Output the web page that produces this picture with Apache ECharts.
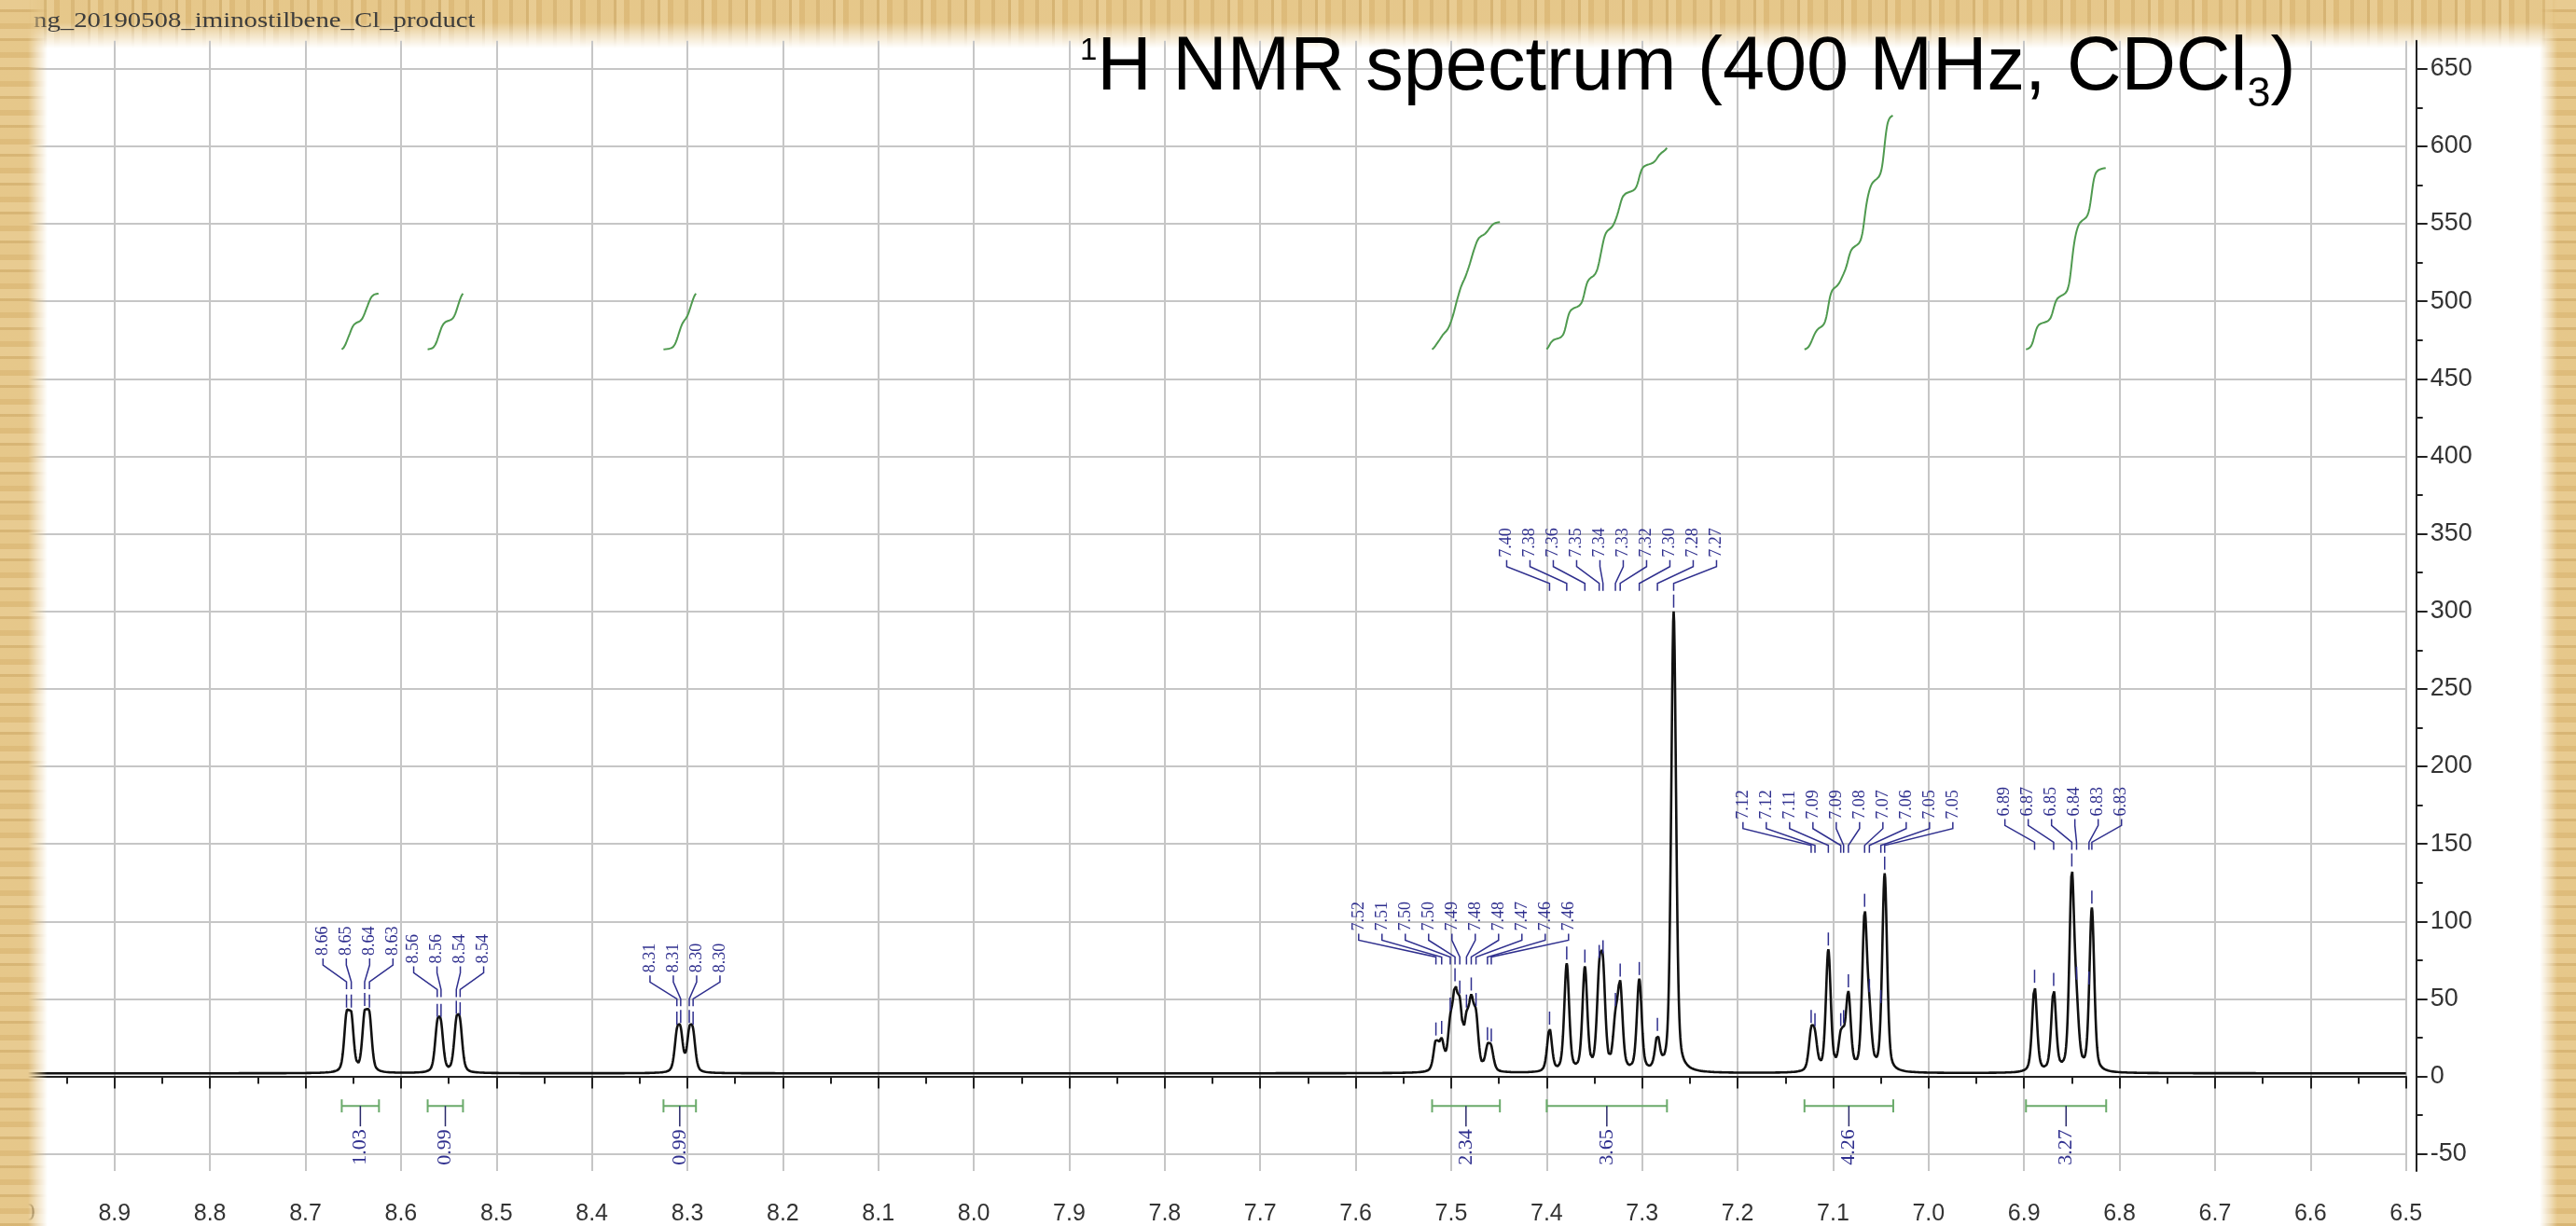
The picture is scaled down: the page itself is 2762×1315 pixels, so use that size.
<!DOCTYPE html>
<html>
<head>
<meta charset="utf-8">
<title>1H NMR spectrum</title>
<script src="https://cdn.jsdelivr.net/npm/echarts@6/dist/echarts.min.js"></script>
<style>
html,body{margin:0;padding:0;width:2762px;height:1315px;overflow:hidden;background:#ffffff;}
#chart{position:absolute;left:0;top:0;width:2762px;height:1315px;z-index:1;}
.edge{position:absolute;pointer-events:none;
  background:
   repeating-linear-gradient(90deg, rgba(170,130,64,0.22) 0 3px, rgba(255,244,212,0.20) 3px 11px, rgba(192,150,80,0.16) 11px 17px, rgba(255,238,196,0.12) 17px 29px, rgba(160,122,60,0.14) 29px 33px, rgba(255,246,220,0.1) 33px 47px),
   #e3c282;}
#edgeTop{left:0;top:0;width:2762px;height:54px;z-index:0;
  -webkit-mask-image:linear-gradient(to bottom,#000 0,#000 24px,rgba(0,0,0,0.55) 36px,transparent 52px);
  mask-image:linear-gradient(to bottom,#000 0,#000 24px,rgba(0,0,0,0.55) 36px,transparent 52px);}
#edgeLeft{left:0;top:0;width:52px;height:1315px;z-index:2;
  background:
   repeating-linear-gradient(0deg, rgba(170,130,64,0.2) 0 3px, rgba(255,244,212,0.18) 3px 13px, rgba(192,150,80,0.14) 13px 19px, rgba(255,238,196,0.12) 19px 31px),
   #e3c282;
  -webkit-mask-image:linear-gradient(to right,#000 0,#000 30px,rgba(0,0,0,0.5) 40px,transparent 51px);
  mask-image:linear-gradient(to right,#000 0,#000 30px,rgba(0,0,0,0.5) 40px,transparent 51px);}
#edgeRight{right:0;top:0;width:40px;height:1315px;z-index:2;
  background:
   repeating-linear-gradient(0deg, rgba(170,130,64,0.2) 0 3px, rgba(255,244,212,0.18) 3px 13px, rgba(192,150,80,0.14) 13px 19px, rgba(255,238,196,0.12) 19px 31px),
   #e3c282;
  -webkit-mask-image:linear-gradient(to left,#000 0,#000 20px,rgba(0,0,0,0.5) 29px,transparent 39px);
  mask-image:linear-gradient(to left,#000 0,#000 20px,rgba(0,0,0,0.5) 29px,transparent 39px);}
</style>
</head>
<body>
<div class="edge" id="edgeTop"></div>
<div id="chart"></div>
<div class="edge" id="edgeLeft"></div>
<div class="edge" id="edgeRight"></div>
<script>
// ---------------- data ----------------
const X_MIN = 6.5, X_MAX = 9.0, X_STEP = 0.1;          // ppm axis (inverted)
const Y_MIN = -61, Y_MAX = 668;                          // intensity axis
const yTicks = [-50, 0, 50, 100, 150, 200, 250, 300, 350, 400, 450, 500, 550, 600, 650];
const yMinorTicks = [-25, 25, 75, 125, 175, 225, 275, 325, 375, 425, 475, 525, 575, 625];

// peak list: position (ppm), apparent height, printed label, multiplet group
const peakPpm = [
  8.657, 8.652, 8.638, 8.633,
  8.562, 8.558, 8.542, 8.538,
  8.311, 8.307, 8.298, 8.294,
  7.516, 7.510, 7.501, 7.496, 7.491, 7.484, 7.479, 7.474, 7.462, 7.458,
  7.397, 7.379, 7.360, 7.345, 7.341, 7.328, 7.323, 7.303, 7.284, 7.267,
  7.123, 7.119, 7.105, 7.092, 7.089, 7.084, 7.067, 7.062, 7.050, 7.046,
  6.889, 6.869, 6.850, 6.845, 6.832, 6.829
];
const peakHeight = [
  42, 42, 43, 42,
  36, 36, 38, 37,
  31, 32, 32, 31,
  24, 25, 40, 59, 51, 42, 53, 43, 21, 20,
  31, 73, 71, 74, 77, 43, 62, 63, 27, 300,
  32, 30, 82, 30, 32, 55, 107, 52, 44, 131,
  58, 56, 133, 60, 52, 109
];
const peakLabel = [
  '8.66', '8.65', '8.64', '8.63',
  '8.56', '8.56', '8.54', '8.54',
  '8.31', '8.31', '8.30', '8.30',
  '7.52', '7.51', '7.50', '7.50', '7.49', '7.48', '7.48', '7.47', '7.46', '7.46',
  '7.40', '7.38', '7.36', '7.35', '7.34', '7.33', '7.32', '7.30', '7.28', '7.27',
  '7.12', '7.12', '7.11', '7.09', '7.09', '7.08', '7.07', '7.06', '7.05', '7.05',
  '6.89', '6.87', '6.85', '6.84', '6.83', '6.83'
];
const peakGroup = [
  0, 0, 0, 0,
  1, 1, 1, 1,
  2, 2, 2, 2,
  3, 3, 3, 3, 3, 3, 3, 3, 3, 3,
  4, 4, 4, 4, 4, 4, 4, 4, 4, 4,
  5, 5, 5, 5, 5, 5, 5, 5, 5, 5,
  6, 6, 6, 6, 6, 6
];

// integration regions
const intFrom  = [8.662, 8.572, 8.325, 7.520, 7.400, 7.130, 6.898];
const intTo    = [8.623, 8.535, 8.291, 7.449, 7.274, 7.037, 6.814];
const intValue = ['1.03', '0.99', '0.99', '2.34', '3.65', '4.26', '3.27'];
const intTop   = [505, 505, 505, 551, 599, 620, 586];     // level reached by the integral curve
const intBase  = 469;                                     // level where each integral curve starts
const intBarLevel = -19;                                  // level of the integration bars

const titleText = '{sup|1}{m|H NMR spectrum (400 MHz, CDCl}{sub|3}{m|)}';
const fileText = 'ng_20190508_iminostilbene_Cl_product';

// ---------------- spectrum from the peak list ----------------
const W = 0.003, ETA = 0.4, BASE = 2, STEP = 0.0005;
function lineShape(d) { const r = (d / W) * (d / W); return ETA / (1 + r) + (1 - ETA) * Math.exp(-Math.LN2 * r); }
let amp = peakHeight.map(h => h - BASE);
for (let it = 0; it < 400; it++) {
  const next = amp.slice();
  for (let i = 0; i < peakPpm.length; i++) {
    let s = 0;
    for (let j = 0; j < peakPpm.length; j++) s += amp[j] * lineShape(peakPpm[i] - peakPpm[j]);
    next[i] = Math.max(0, amp[i] + 0.5 * (peakHeight[i] - BASE - s));
  }
  amp = next;
}
function specAt(x) {
  let s = BASE;
  for (let j = 0; j < peakPpm.length; j++) { const d = x - peakPpm[j]; if (Math.abs(d) < 0.4) s += amp[j] * lineShape(d); }
  return s;
}
const spectrum = [];
const nPts = Math.round((X_MAX - X_MIN) / STEP);
for (let k = 0; k <= nPts; k++) { const x = +(X_MIN + k * STEP).toFixed(4); spectrum.push([x, specAt(x)]); }

// integral curves (cumulative area inside each region)
const integralSeries = intFrom.map((from, g) => {
  const to = intTo[g];
  const n = Math.round((from - to) / STEP);
  let cum = 0; const raw = [];
  for (let k = 0; k <= n; k++) {
    const x = from - k * STEP;
    if (k > 0) cum += Math.max(0, specAt(x) - BASE);
    raw.push([x, cum]);
  }
  const total = cum || 1;
  return {
    type: 'line', data: raw.map(([x, c]) => [x, intBase + (intTop[g] - intBase) * c / total]),
    showSymbol: false, silent: true, animation: false, z: 3,
    lineStyle: { color: '#4f9a4f', width: 2 }
  };
});

// multiplet label layout data
const gInfo = {};
peakGroup.forEach((g, i) => { (gInfo[g] = gInfo[g] || { idx: [] }).idx.push(i); });
Object.keys(gInfo).forEach(g => {
  const ps = gInfo[g].idx.map(i => peakPpm[i]);
  gInfo[g].center = (Math.max(...ps) + Math.min(...ps)) / 2;
  gInfo[g].maxVal = Math.max(...gInfo[g].idx.map(i => specAt(peakPpm[i])));
});
const labelData = peakPpm.map((p, i) => {
  const g = gInfo[peakGroup[i]];
  return [p, specAt(p), g.center, g.maxVal, g.idx.indexOf(i), g.idx.length];
});
const LABEL_GAP = 25;
const BLUE = '#2f2f8e';

// ---------------- chart ----------------
const chart = echarts.init(document.getElementById('chart'), null, { renderer: 'canvas' });
const gridTopPx = 1156 - Y_MAX * 1.665;
const option = {
  animation: false,
  backgroundColor: 'transparent',
  title: {
    text: titleText, left: 1158, top: 54.6, padding: 0,
    textStyle: {
      fontWeight: 'normal',
      rich: {
        m:   { fontSize: 81, lineHeight: 80, fontFamily: 'Liberation Sans', fontWeight: 'normal', color: '#000', verticalAlign: 'bottom', padding: [0, 0, 20, 0] },
        sup: { fontSize: 33, lineHeight: 32, fontFamily: 'Liberation Sans', fontWeight: 'normal', color: '#000', verticalAlign: 'bottom', padding: [0, 0, 63, 0] },
        sub: { fontSize: 45, lineHeight: 44, fontFamily: 'Liberation Sans', fontWeight: 'normal', color: '#000', verticalAlign: 'bottom', padding: [0, 0, 11, 0] }
      }
    }
  },
  graphic: [{
    type: 'text', x: 36, y: 35, scaleX: 1.2, z: 10,
    style: { text: fileText, fontSize: 24, fontFamily: 'Liberation Serif', fill: '#3c3c3c', align: 'left', verticalAlign: 'bottom' }
  }],
  grid: { left: 20.4, right: 182.3, top: gridTopPx, bottom: 57.4, containLabel: false },
  xAxis: {
    type: 'value', min: X_MIN, max: X_MAX, interval: X_STEP, inverse: true,
    position: 'bottom', offset: 11,
    axisLine: { show: true, lineStyle: { color: '#222', width: 2 } },
    axisTick: { show: true, length: 13, lineStyle: { color: '#222', width: 2 } },
    minorTick: { show: true, splitNumber: 2, length: 8, lineStyle: { color: '#222', width: 2 } },
    axisLabel: { formatter: v => v.toFixed(1), fontSize: 25, color: '#333', fontFamily: 'Liberation Sans Narrow, Liberation Sans', margin: 23 },
    splitLine: { show: true, lineStyle: { color: '#c6c6c6', width: 2 } },
    minorSplitLine: { show: false }
  },
  yAxis: [{
    type: 'value', min: Y_MIN, max: Y_MAX, position: 'right', offset: 11,
    axisLine: { show: true, lineStyle: { color: '#222', width: 2 } },
    axisTick: { show: true, customValues: yTicks, length: 12, lineStyle: { color: '#222', width: 2 } },
    axisLabel: { customValues: yTicks, margin: 15, fontSize: 27, color: '#333', fontFamily: 'Liberation Sans' },
    splitLine: { show: true, lineStyle: { color: '#c6c6c6', width: 2 } }
  }, {
    type: 'value', min: Y_MIN, max: Y_MAX, position: 'right', offset: 11,
    axisLine: { show: false },
    axisTick: { show: true, customValues: yMinorTicks, length: 7, lineStyle: { color: '#222', width: 2 } },
    axisLabel: { show: false },
    splitLine: { show: false }
  }],
  series: [
    {
      type: 'line', data: spectrum, showSymbol: false, silent: true, z: 4,
      lineStyle: { color: '#111', width: 2.6 }, sampling: null
    },
    ...integralSeries,
    {
      type: 'custom', data: labelData, silent: true, z: 5, clip: false,
      encode: { x: 0, y: 1 },
      renderItem: (params, api) => {
        const p = api.coord([api.value(0), api.value(1)]);
        const c = api.coord([api.value(2), api.value(3)]);
        const k = api.value(4), n = api.value(5);
        const lx = c[0] + (k - (n - 1) / 2) * LABEL_GAP;
        const lb = c[1] - 58;
        return {
          type: 'group', children: [
            { type: 'text', x: lx, y: lb, rotation: Math.PI / 2,
              style: { text: peakLabel[params.dataIndex], fill: BLUE, fontSize: 18, fontFamily: 'Liberation Serif', align: 'left', verticalAlign: 'middle' } },
            { type: 'polyline', shape: { points: [[lx, lb + 3], [lx, lb + 10], [p[0], lb + 28], [p[0], lb + 36]] },
              style: { stroke: BLUE, lineWidth: 1.5, fill: null } },
            { type: 'line', shape: { x1: p[0], y1: p[1] - 18, x2: p[0], y2: p[1] - 4 },
              style: { stroke: BLUE, lineWidth: 1.5 } }
          ]
        };
      }
    },
    {
      type: 'custom', data: intFrom.map((f, i) => [f, intTo[i], i]), silent: true, z: 5, clip: false,
      encode: { x: [0, 1] },
      renderItem: (params, api) => {
        const i = params.dataIndex;
        const a = api.coord([api.value(0), intBarLevel]);
        const b = api.coord([api.value(1), intBarLevel]);
        const y = a[1], mx = (a[0] + b[0]) / 2;
        const G = '#6aaa6a';
        return {
          type: 'group', children: [
            { type: 'line', shape: { x1: a[0], y1: y, x2: b[0], y2: y }, style: { stroke: G, lineWidth: 2 } },
            { type: 'line', shape: { x1: a[0], y1: y - 7, x2: a[0], y2: y + 7 }, style: { stroke: G, lineWidth: 2 } },
            { type: 'line', shape: { x1: b[0], y1: y - 7, x2: b[0], y2: y + 7 }, style: { stroke: G, lineWidth: 2 } },
            { type: 'line', shape: { x1: mx, y1: y, x2: mx, y2: y + 22 }, style: { stroke: '#2a2a6a', lineWidth: 1.5 } },
            { type: 'text', x: mx, y: y + 25, rotation: Math.PI / 2,
              style: { text: intValue[i], fill: BLUE, fontSize: 22, fontFamily: 'Liberation Serif', align: 'right', verticalAlign: 'middle' } }
          ]
        };
      }
    }
  ]
};
chart.setOption(option);
</script>
</body>
</html>
